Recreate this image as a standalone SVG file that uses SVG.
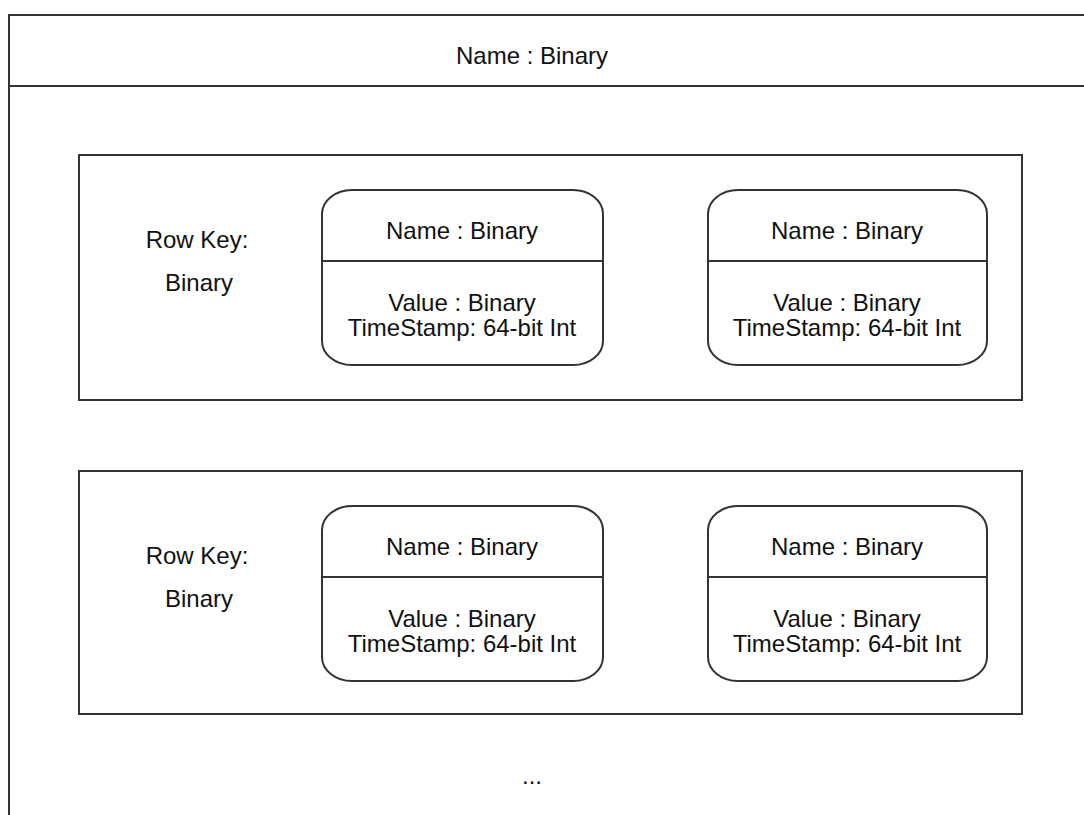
<svg xmlns="http://www.w3.org/2000/svg" width="1084" height="815" viewBox="0 0 1084 815">
  <style>
    .ln { fill: none; stroke: #333; stroke-width: 2; }
    .box { fill: #fff; stroke: #333; stroke-width: 2; }
    .t { font-family: "Liberation Sans", Arial, sans-serif; font-size: 24px; fill: #111; text-anchor: middle; }
  </style>
  <rect width="1084" height="815" fill="#fff"/>

  <!-- column family frame: open on the right and bottom -->
  <g id="family">
    <path class="ln" d="M1084 15 H9 V815"/>
    <line class="ln" x1="9" y1="86" x2="1084" y2="86"/>
    <text class="t" x="532" y="64">Name : Binary</text>
  </g>

  <!-- row 1 -->
  <g id="row1">
    <rect class="box" x="79" y="155" width="943" height="245"/>
    <text class="t" x="197" y="248">Row Key:</text>
    <text class="t" x="199" y="291">Binary</text>
  </g>
  <g id="row1-col1">
    <rect class="box" x="322" y="190" width="281" height="175" rx="30" ry="24"/>
    <line class="ln" x1="322" y1="261" x2="603" y2="261"/>
    <text class="t" x="462" y="239">Name : Binary</text>
    <text class="t" x="462" y="311">Value : Binary</text>
    <text class="t" x="462" y="336">TimeStamp: 64-bit Int</text>
  </g>
  <g id="row1-col2">
    <rect class="box" x="708" y="190" width="279" height="175" rx="30" ry="24"/>
    <line class="ln" x1="708" y1="261" x2="987" y2="261"/>
    <text class="t" x="847" y="239">Name : Binary</text>
    <text class="t" x="847" y="311">Value : Binary</text>
    <text class="t" x="847" y="336">TimeStamp: 64-bit Int</text>
  </g>

  <!-- row 2 -->
  <g id="row2">
    <rect class="box" x="79" y="471" width="943" height="243"/>
    <text class="t" x="197" y="564">Row Key:</text>
    <text class="t" x="199" y="607">Binary</text>
  </g>
  <g id="row2-col1">
    <rect class="box" x="322" y="506" width="281" height="175" rx="30" ry="24"/>
    <line class="ln" x1="322" y1="577" x2="603" y2="577"/>
    <text class="t" x="462" y="555">Name : Binary</text>
    <text class="t" x="462" y="627">Value : Binary</text>
    <text class="t" x="462" y="652">TimeStamp: 64-bit Int</text>
  </g>
  <g id="row2-col2">
    <rect class="box" x="708" y="506" width="279" height="175" rx="30" ry="24"/>
    <line class="ln" x1="708" y1="577" x2="987" y2="577"/>
    <text class="t" x="847" y="555">Name : Binary</text>
    <text class="t" x="847" y="627">Value : Binary</text>
    <text class="t" x="847" y="652">TimeStamp: 64-bit Int</text>
  </g>

  <g id="more">
    <text class="t" x="532" y="784">...</text>
  </g>

  <g id="connectors"/>
</svg>
